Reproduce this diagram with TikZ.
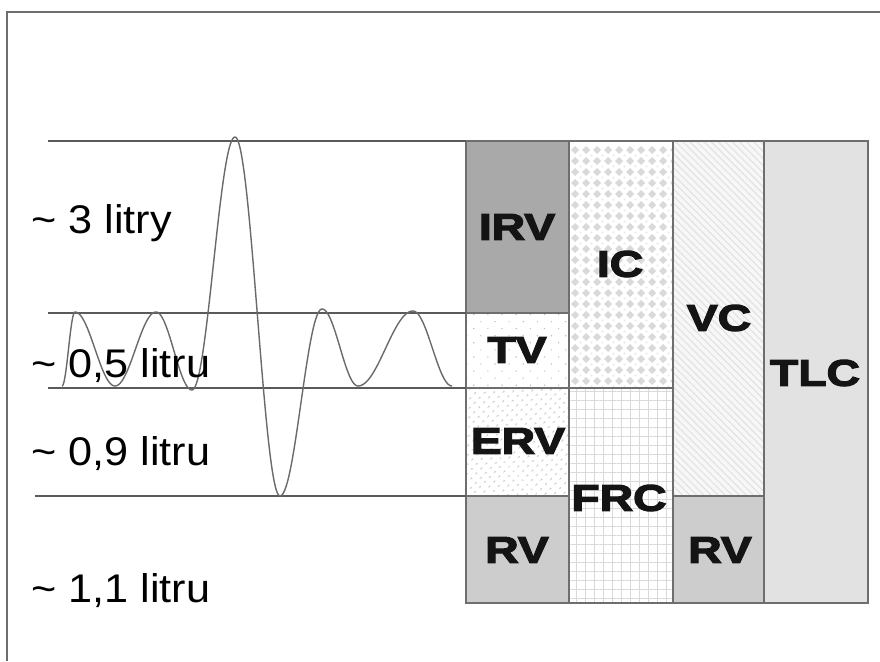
\documentclass[tikz,border=0pt]{standalone}
\usepackage{fontspec}
\setmainfont{Liberation Sans}
\newfontfamily\vollbl[FakeStretch=1.08]{Liberation Sans}
\newfontfamily\boxlbl[FakeStretch=1.25,FakeBold=3.5]{Liberation Sans Bold}
\usetikzlibrary{patterns.meta}
\definecolor{framegray}{HTML}{6E6E6E}
\definecolor{linegray}{HTML}{5A5A5A}
\definecolor{wavegray}{HTML}{6A6A6A}
\definecolor{irvgray}{HTML}{A9A9A9}
\definecolor{rvgray}{HTML}{CDCDCD}
\definecolor{tlcgray}{HTML}{E2E2E2}
\definecolor{patgray}{HTML}{D9D9D9}
\definecolor{hatchgray}{HTML}{E0E0E0}
\definecolor{dotgray}{HTML}{BDBDBD}
\definecolor{textblack}{HTML}{141414}
\tikzset{
  barbox/.style={draw=framegray, line width=1.6pt},
  levelline/.style={draw=linegray, line width=1.3pt},
  wave/.style={draw=wavegray, line width=1.4pt},
  vollabel/.style={anchor=base west, inner sep=0pt, text=black, font=\vollbl\fontsize{40}{41}\selectfont},
  boxlabel/.style={inner sep=0pt, text=textblack, font=\boxlbl\fontsize{37}{38}\selectfont},
}
\newcommand{\halfwave}[4]{%
  \draw[wave] plot[domain=0:180, samples=40, smooth] ({#1+(#3-#1)*\x/180},{(#2+#4)/2+(#2-#4)/2*cos(\x)});}
\begin{document}
\begin{tikzpicture}[x=1pt,y=-1pt]
\useasboundingbox (0,0) rectangle (880,661);
\fill[white] (0,0) rectangle (880,661);
% outer frame (left and top only visible)
\draw[draw=framegray, line width=2.4pt] (7,661) -- (7,12) -- (880,12);

% ---- column 1 ----
\fill[irvgray] (466,141) rectangle (569,313);
\fill[white] (466,313) rectangle (569,388);
\fill[pattern={Dots[distance=10pt,radius=0.8pt,angle=45]}, pattern color=dotgray] (466,313) rectangle (569,388);
\fill[white] (466,388) rectangle (569,496);
\fill[pattern={Dots[distance=6.5pt,radius=1.1pt,angle=45]}, pattern color=dotgray] (466,388) rectangle (569,496);
\fill[rvgray] (466,496) rectangle (569,603);
% ---- column 2 ----
\fill[white] (569,141) rectangle (673,388);
\begin{scope}
  \clip (569,141) rectangle (673,388);
  \foreach \i in {0,...,9} {
    \foreach \j in {0,...,22} {
      \fill[patgray] ({575+11*\i},{146+11*\j}) -- ++(4,4) -- ++(-4,4) -- ++(-4,-4) -- cycle;
      \fill[patgray!60] ({580.5+11*\i},{155.5+11*\j}) circle (1.1);
    }
  }
\end{scope}
\fill[white] (569,388) rectangle (673,603);
\fill[pattern={Hatch[angle=0,distance=9pt,line width=0.6pt]}, pattern color=patgray] (569,388) rectangle (673,603);
% ---- column 3 ----
\fill[white!97!black] (673,141) rectangle (764,496);
\fill[pattern={Lines[angle=-45,distance=5pt,line width=1pt]}, pattern color=hatchgray] (673,141) rectangle (764,496);
\fill[rvgray] (673,496) rectangle (764,603);
% ---- column 4 ----
\fill[tlcgray] (764,141) rectangle (868,603);

% borders
\draw[barbox] (466,141) rectangle (569,313);
\draw[barbox] (466,313) rectangle (569,388);
\draw[barbox] (466,388) rectangle (569,496);
\draw[barbox] (466,496) rectangle (569,603);
\draw[barbox] (569,141) rectangle (673,388);
\draw[barbox] (569,388) rectangle (673,603);
\draw[barbox] (673,141) rectangle (764,496);
\draw[barbox] (673,496) rectangle (764,603);
\draw[barbox] (764,141) rectangle (868,603);

% level lines
\coordinate (l1a) at (48,141);  \coordinate (l1b) at (466,141);
\coordinate (l2a) at (48,313);  \coordinate (l2b) at (466,313);
\coordinate (l3a) at (48,388);  \coordinate (l3b) at (466,388);
\coordinate (l4a) at (35,496);  \coordinate (l4b) at (466,496);
\draw[levelline] (l1a) -- (l1b);
\draw[levelline] (l2a) -- (l2b);
\draw[levelline] (l3a) -- (l3b);
\draw[levelline] (l4a) -- (l4b);

% spirogram wave
\halfwave{62}{386}{75}{312}
\halfwave{75}{312}{115}{386}
\halfwave{115}{386}{156}{312}
\halfwave{156}{312}{192}{390}
\halfwave{192}{390}{235}{137}
\halfwave{235}{137}{280}{496}
\halfwave{280}{496}{322}{309}
\halfwave{322}{309}{358}{386}
\halfwave{358}{386}{413}{311}
\halfwave{413}{311}{452}{386}

% volume labels
\node[vollabel] (v3) at (31,233) {\char"007E\ 3 litry};
\node[vollabel] (v05) at (31,377) {\char"007E\ 0,5 litru};
\node[vollabel] (v09) at (31,465) {\char"007E\ 0,9 litru};
\node[vollabel] (v11) at (31,602) {\char"007E\ 1,1 litru};

% box labels
\node[boxlabel] (irv) at (517,227) {IRV};
\node[boxlabel] (tv) at (517,350) {TV};
\node[boxlabel] (erv) at (518,441) {ERV};
\node[boxlabel] (rv1) at (517,550) {RV};
\node[boxlabel] (ic) at (620,264) {IC};
\node[boxlabel] (frc) at (619,498) {FRC};
\node[boxlabel] (vc) at (719,318) {VC};
\node[boxlabel] (rv2) at (720,550) {RV};
\node[boxlabel] (tlc) at (815,373) {TLC};
\end{tikzpicture}
\end{document}
